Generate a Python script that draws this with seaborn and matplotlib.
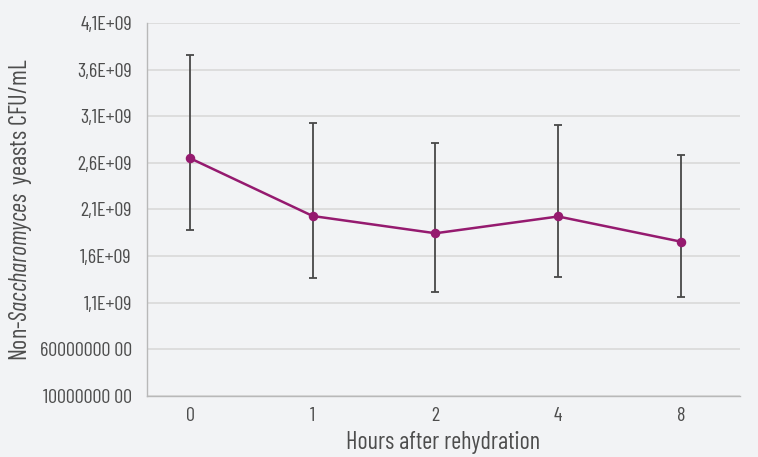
import matplotlib
matplotlib.use("Agg")
import matplotlib.pyplot as plt
import seaborn as sns
import pandas as pd
import numpy as np

# Viable non-Saccharomyces yeast counts after rehydration
hours = ["0", "1", "2", "4", "8"]
cfu_mean = [2.65e9, 2.03e9, 1.845e9, 2.025e9, 1.755e9]
cfu_upper = [3.76e9, 3.03e9, 2.81e9, 3.005e9, 2.685e9]
cfu_lower = [1.885e9, 1.36e9, 1.22e9, 1.375e9, 1.16e9]

y_ticks = [1e8, 6e8, 1.1e9, 1.6e9, 2.1e9, 2.6e9, 3.1e9, 3.6e9, 4.1e9]
y_tick_labels = ["10000000 00", "60000000 00", "1,1E+09", "1,6E+09", "2,1E+09",
                 "2,6E+09", "3,1E+09", "3,6E+09", "4,1E+09"]

df = pd.DataFrame({"hours": hours, "cfu": cfu_mean})

bg = "#f2f3f5"
line_col = "#951a6f"
text_col = "#4d4d4d"
font_name = "Barlow Condensed"

sns.set_theme(style="white")
plt.rcParams["font.family"] = [font_name, "DejaVu Sans"]
plt.rcParams["mathtext.fontset"] = "custom"
plt.rcParams["mathtext.it"] = f"{font_name}:italic"
plt.rcParams["mathtext.rm"] = font_name

fig = plt.figure(figsize=(7.58, 4.57), dpi=100, facecolor=bg)
ax = fig.add_axes([0.194, 0.1335, 0.782, 0.8162])
ax.set_facecolor(bg)

x_pos = np.arange(len(hours))
yerr = [np.array(cfu_mean) - np.array(cfu_lower), np.array(cfu_upper) - np.array(cfu_mean)]
ax.errorbar(x_pos, cfu_mean, yerr=yerr, fmt="none", ecolor="#484848",
            elinewidth=1.3, capsize=3, capthick=1.3, zorder=2)

sns.pointplot(data=df, x="hours", y="cfu", color=line_col, errorbar=None,
              markers="o", markersize=5.5, linewidth=1.8, ax=ax, zorder=3)

ax.set_xlim(-0.35, 4.48)
ax.set_ylim(1e8, 4.1e9)
ax.set_yticks(y_ticks)
ax.set_yticklabels(y_tick_labels)
ax.grid(axis="y", color="#d9d9d9", linewidth=1.2)
ax.set_axisbelow(True)

for side in ["top", "right"]:
    ax.spines[side].set_visible(False)
ax.spines["left"].set_color("#b8b8b8")
ax.spines["bottom"].set_color("#b8b8b8")
ax.spines["left"].set_linewidth(1.0)
ax.spines["bottom"].set_linewidth(1.0)

ax.tick_params(axis="both", length=0, labelsize=14.5, colors=text_col)
ax.tick_params(axis="y", pad=11)
ax.tick_params(axis="x", pad=8)

ax.set_xlabel("Hours after rehydration", fontsize=17.5, color=text_col, labelpad=4)
ax.set_ylabel(r"Non-$\mathit{Saccharomyces}$  yeasts CFU/mL", fontsize=17.5,
              color=text_col)
ax.yaxis.set_label_coords(-0.19, 0.5)

fig.savefig("out.png", dpi=100, facecolor=bg)
